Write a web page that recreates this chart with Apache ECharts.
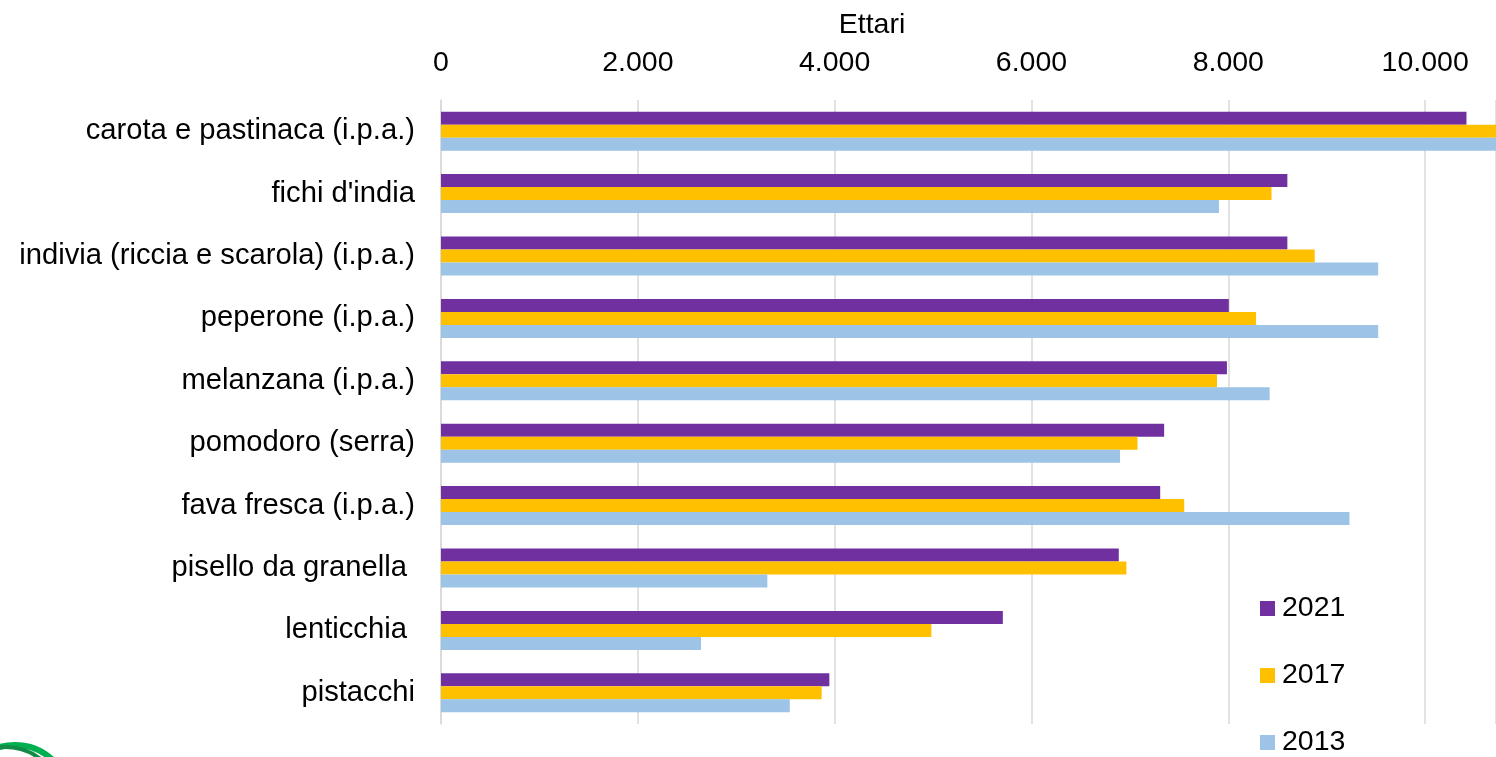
<!DOCTYPE html>
<html>
<head>
<meta charset="utf-8">
<script src="https://cdn.jsdelivr.net/npm/echarts@6/dist/echarts.min.js"></script>
<style>
html,body{margin:0;padding:0;background:#fff;}
#chart{width:1496px;height:757px;}
</style>
</head>
<body>
<div id="chart"></div>
<script>
const categories = [
  "carota e pastinaca (i.p.a.)",
  "fichi d'india",
  "indivia (riccia e scarola) (i.p.a.)",
  "peperone (i.p.a.)",
  "melanzana (i.p.a.)",
  "pomodoro (serra)",
  "fava fresca (i.p.a.)",
  "pisello da granella ",
  "lenticchia ",
  "pistacchi"
];
const years = ["2021", "2017", "2013"];
const values2021 = [10420, 8600, 8600, 8005, 7986, 7348, 7308, 6887, 5709, 3946];
const values2017 = [10800, 8439, 8878, 8282, 7885, 7077, 7552, 6964, 4983, 3868];
const values2013 = [10850, 7905, 9523, 9523, 8420, 6900, 9231, 3316, 2642, 3544];
const tickValues = [0, 2000, 4000, 6000, 8000, 10000];
const colors = ["#7030A0", "#FFC000", "#9DC3E6"];

const font = "'Liberation Sans', Arial, sans-serif";
const chart = echarts.init(document.getElementById('chart'), null, {renderer: 'canvas'});

function fmt(v) {
  return String(v).replace(/\B(?=(\d{3})+(?!\d))/g, '.');
}

const seriesData = [values2021, values2017, values2013];
const legendTops = [594, 661, 728];

chart.setOption({
  animation: false,
  backgroundColor: '#ffffff',
  textStyle: {fontFamily: font},
  grid: {left: 441, right: 0, top: 100, height: 624, containLabel: false},
  legend: years.map(function (y, i) {
    return {
      orient: 'vertical',
      left: 1260,
      top: legendTops[i],
      itemWidth: 15,
      itemHeight: 15,
      itemGap: 0,
      icon: 'rect',
      padding: 0,
      data: [y],
      textStyle: {fontSize: 28.5, color: '#000', fontFamily: font, lineHeight: 28, padding: [0, 0, 0, 2]}
    };
  }),
  graphic: [
    {type: 'text', x: 872, y: 25, style: {text: 'Ettari', fontSize: 28.5, fontFamily: font, fill: '#000', textAlign: 'center', textVerticalAlign: 'middle'}},
    {type: 'circle', shape: {cx: 15, cy: 800, r: 55}, style: {fill: 'none', stroke: '#00B050', lineWidth: 6}},
    {type: 'circle', shape: {cx: 5, cy: 805, r: 58}, style: {fill: 'none', stroke: '#138a45', lineWidth: 4}}
  ],
  xAxis: {
    type: 'value',
    position: 'top',
    min: 0,
    max: 10720,
    interval: 2000,
    axisLine: {show: false},
    axisTick: {show: false},
    axisLabel: {
      fontSize: 28.5,
      color: '#000',
      fontFamily: font,
      margin: 22,
      showMaxLabel: false,
      formatter: function (v) { return tickValues.indexOf(v) >= 0 ? fmt(v) : ''; }
    },
    splitLine: {show: true, lineStyle: {color: '#d9d9d9', width: 1.5}}
  },
  yAxis: {
    type: 'category',
    inverse: true,
    data: categories,
    axisLine: {show: true, lineStyle: {color: '#d9d9d9', width: 1.5}},
    axisTick: {show: false},
    axisLabel: {fontSize: 29.2, color: '#000', fontFamily: font, margin: 26}
  },
  series: years.map(function (y, i) {
    return {
      name: y,
      type: 'bar',
      data: seriesData[i],
      barGap: '0%',
      barCategoryGap: '37.5%',
      itemStyle: {color: colors[i]}
    };
  })
});
</script>
</body>
</html>
